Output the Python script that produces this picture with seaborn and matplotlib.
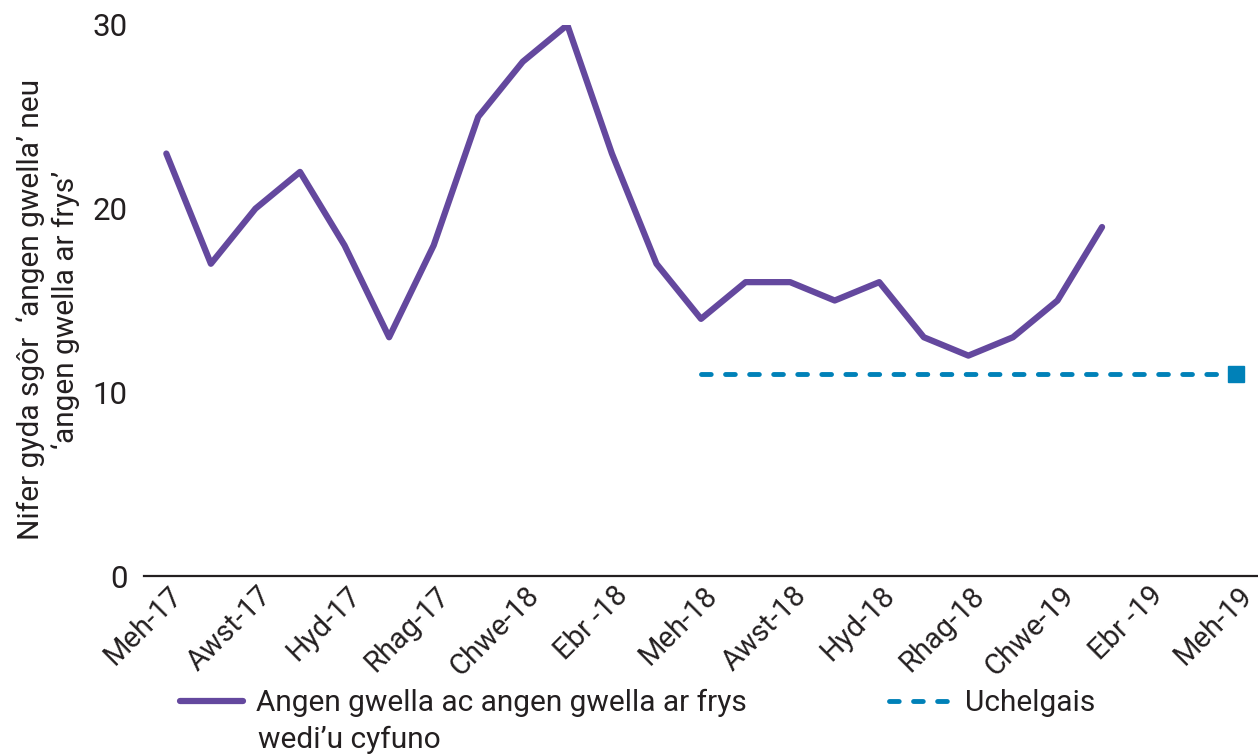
#Arolygiadau - nifer gyda sgor 'angen gwella' neu 'angen gwella ar frys'

#Import libraries
import numpy as np
import pandas as pd
import seaborn as sns
import matplotlib.pyplot as plt
import matplotlib.transforms as mtransforms

#Data
tick_labels = ['Meh-17', 'Awst-17', 'Hyd-17', 'Rhag-17', 'Chwe-18', 'Ebr -18', 'Meh-18',
               'Awst-18', 'Hyd-18', 'Rhag-18', 'Chwe-19', 'Ebr -19', 'Meh-19']
combined = [23, 17, 20, 22, 18, 13, 18, 25, 28, 30, 23, 17, 14,
            16, 16, 15, 16, 13, 12, 13, 15, 19]
target_start = 12   #Meh-18
target_end = 24     #Meh-19
target_value = 11

combined_label = 'Angen gwella ac angen gwella ar frys'
combined_label_2 = 'wedi\u2019u cyfuno'
target_label = 'Uchelgais'
ylabel = 'Nifer gyda sg\u00f4r  \u2018angen gwella\u2019 neu\n\u2018angen gwella ar frys\u2019'

purple = '#64489E'
blue = '#0081B8'
text_col = '#231F20'

sns.set_style('white')
plt.rcParams['font.family'] = ['Roboto', 'DejaVu Sans']
plt.rcParams['text.color'] = text_col

combined_df = pd.DataFrame({'month': np.arange(len(combined)), 'value': combined})
target_df = pd.DataFrame({'month': np.arange(target_start, target_end + 1),
                          'value': target_value})

fig = plt.figure(figsize=(12.58, 7.56), dpi=100)
ax = fig.add_axes([0.1145, 0.238, 0.8855, 0.729])

sns.lineplot(data=combined_df, x='month', y='value', ax=ax, color=purple,
             linewidth=4.5, legend=False)
sns.lineplot(data=target_df, x='month', y='value', ax=ax, color=blue,
             linewidth=3.5, legend=False)
combined_line = ax.lines[0]
target_line = ax.lines[1]
target_line.set_linestyle((0, (2.0, 2.95)))
target_line.set_dash_capstyle('round')
#square marker at the end of the target line
ax.plot(target_df['month'].iloc[-1:], target_df['value'].iloc[-1:], marker='s',
        markersize=11.5, color=blue, linestyle='none')

ax.set_xlim(-0.5, 24.5)
ax.set_ylim(0, 30)
ax.set_yticks([0, 10, 20, 30])
ax.set_xticks(np.arange(0, 25, 2))
ax.set_xticklabels(tick_labels, rotation=45, ha='right', va='top',
                   rotation_mode='anchor')
ax.tick_params(axis='both', length=0, labelcolor=text_col)
ax.tick_params(axis='y', pad=12, labelsize=22.5)
ax.tick_params(axis='x', pad=4, labelsize=21)
#shift the rotated labels a little to the right, like the original
shift = mtransforms.ScaledTranslation(2 / 100, 0, fig.dpi_scale_trans)
for lbl in ax.get_xticklabels():
    lbl.set_transform(lbl.get_transform() + shift)

ax.set_xlabel('')
ax.set_ylabel(ylabel, fontsize=21.5, color=text_col, linespacing=1.25)
ax.yaxis.set_label_coords(-0.0575, 0.483)

for side in ['top', 'right', 'left']:
    ax.spines[side].set_visible(False)
ax.spines['bottom'].set_color(text_col)
ax.spines['bottom'].set_linewidth(1.6)

#legend below the chart
fig.legend([combined_line, target_line], [combined_label, target_label],
           loc='center left', bbox_to_anchor=(180 / 1258, 1 - 703 / 756), ncol=2,
           frameon=False, fontsize=21.5, handlelength=2.1, handletextpad=0.45,
           columnspacing=4.75, borderpad=0, borderaxespad=0)
fig.text(258 / 1258, 1 - 740 / 756, combined_label_2, fontsize=21.5,
         ha='left', va='center', color=text_col)

fig.savefig('out.png', dpi=100)
